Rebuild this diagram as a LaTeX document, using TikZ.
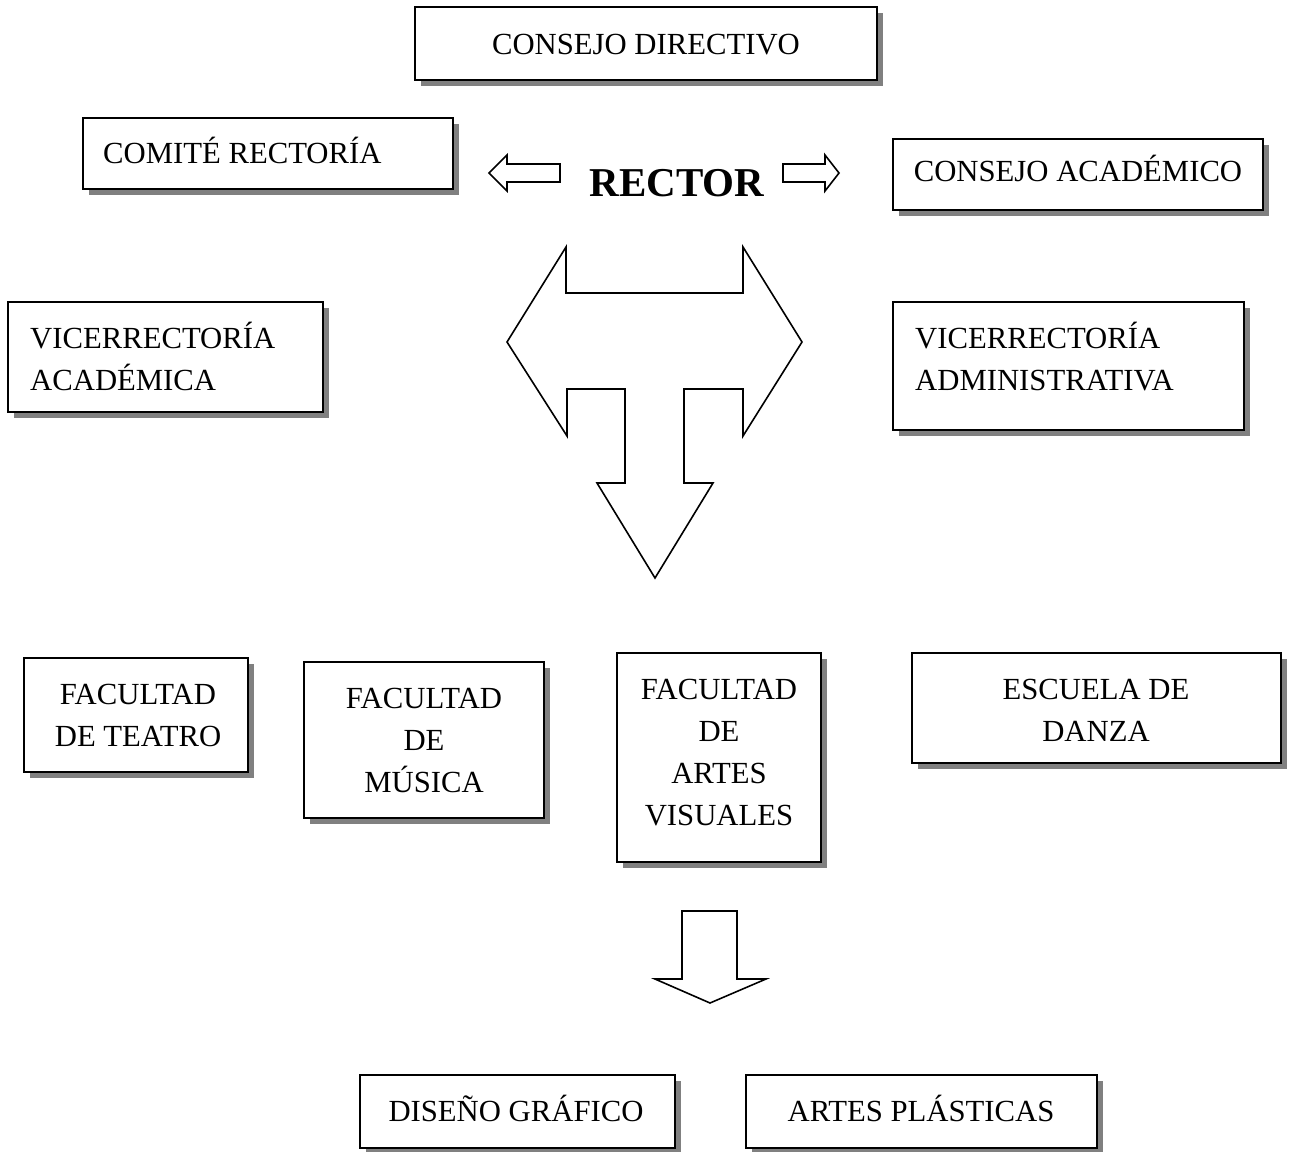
\documentclass[tikz,border=0pt]{standalone}
\usepackage{fontspec}
\setmainfont{Liberation Serif}
\usetikzlibrary{fit,shadows}
% multi-line label whose baseline is that of its first line
\newcommand{\stacktext}[2][c]{\begin{tabular}[t]{@{}#1@{}}#2\end{tabular}}
\begin{document}
\begin{tikzpicture}[x=1pt,y=-1pt,
  panel/.style={draw, line width=1.8pt, fill=white, inner sep=0pt,
    drop shadow={shadow xshift=5.5pt, shadow yshift=-5.5pt, fill=black!50, opacity=1}},
  label/.style={inner sep=0pt, anchor=base,
    font=\fontsize{30.7}{42.3}\selectfont},
  leftlabel/.style={label, anchor=base west},
  chief/.style={inner sep=0pt, anchor=base, font=\fontsize{41}{48}\selectfont\bfseries},
  bigarrow/.style={draw, line width=1.6pt, line join=miter, fill=white}]
\useasboundingbox (0,0) rectangle (1292,1151);

% governing bodies
\node[panel, fit={(415,7) (877,80)}] (cdbox) {};
\node[label] (cdtext) at (646,54) {CONSEJO DIRECTIVO};

\node[panel, fit={(83,118) (453,189)}] (crbox) {};
\node[leftlabel] (crtext) at (103,163) {COMITÉ RECTORÍA};

\node[panel, fit={(893,139) (1263,210)}] (cabox) {};
\node[label] (catext) at (1078,181) {CONSEJO ACADÉMICO};

\node[chief] (rector) at (677,196) {RECTOR};

% small arrows beside the rector
\draw[bigarrow] (489,173) -- (507,155) -- (507,164) -- (560,164) -- (560,182)
  -- (507,182) -- (507,191) -- cycle;
\draw[bigarrow] (783,164) -- (825,164) -- (825,155) -- (839,173) -- (825,191)
  -- (825,182) -- (783,182) -- cycle;

% vice-rectorates
\node[panel, fit={(8,302) (323,412)}] (vabox) {};
\node[leftlabel] (vatext) at (30,348) {\stacktext[l]{VICERRECTORÍA\\ACADÉMICA}};

\node[panel, fit={(893,302) (1244,430)}] (vdbox) {};
\node[leftlabel] (vdtext) at (915,348) {\stacktext[l]{VICERRECTORÍA\\ADMINISTRATIVA}};

% three-headed arrow
\draw[bigarrow] (507,342) -- (566,247) -- (566,293) -- (743,293) -- (743,247)
  -- (802,342) -- (743,436) -- (743,389) -- (684,389) -- (684,483) -- (713,483)
  -- (655,578) -- (597,483) -- (625,483) -- (625,389) -- (567,389) -- (567,436)
  -- cycle;

% faculties
\node[panel, fit={(24,658) (248,772)}] (ftbox) {};
\node[label] (fttext) at (138,704) {\stacktext{FACULTAD\\DE TEATRO}};

\node[panel, fit={(304,662) (544,818)}] (fmbox) {};
\node[label] (fmtext) at (424,708) {\stacktext{FACULTAD\\DE\\MÚSICA}};

\node[panel, fit={(617,653) (821,862)}] (fvbox) {};
\node[label] (fvtext) at (719,699) {\stacktext{FACULTAD\\DE\\ARTES\\VISUALES}};

\node[panel, fit={(912,653) (1281,763)}] (edbox) {};
\node[label] (edtext) at (1096,699) {\stacktext{ESCUELA DE\\DANZA}};

% arrow down to the programmes
\draw[bigarrow] (682,911) -- (737,911) -- (737,979) -- (766,979) -- (710,1003)
  -- (655,979) -- (682,979) -- cycle;

% programmes
\node[panel, fit={(360,1075) (675,1148)}] (dgbox) {};
\node[label] (dgtext) at (516,1121) {DISEÑO GRÁFICO};

\node[panel, fit={(746,1075) (1097,1148)}] (apbox) {};
\node[label] (aptext) at (921,1121) {ARTES PLÁSTICAS};
\end{tikzpicture}
\end{document}
